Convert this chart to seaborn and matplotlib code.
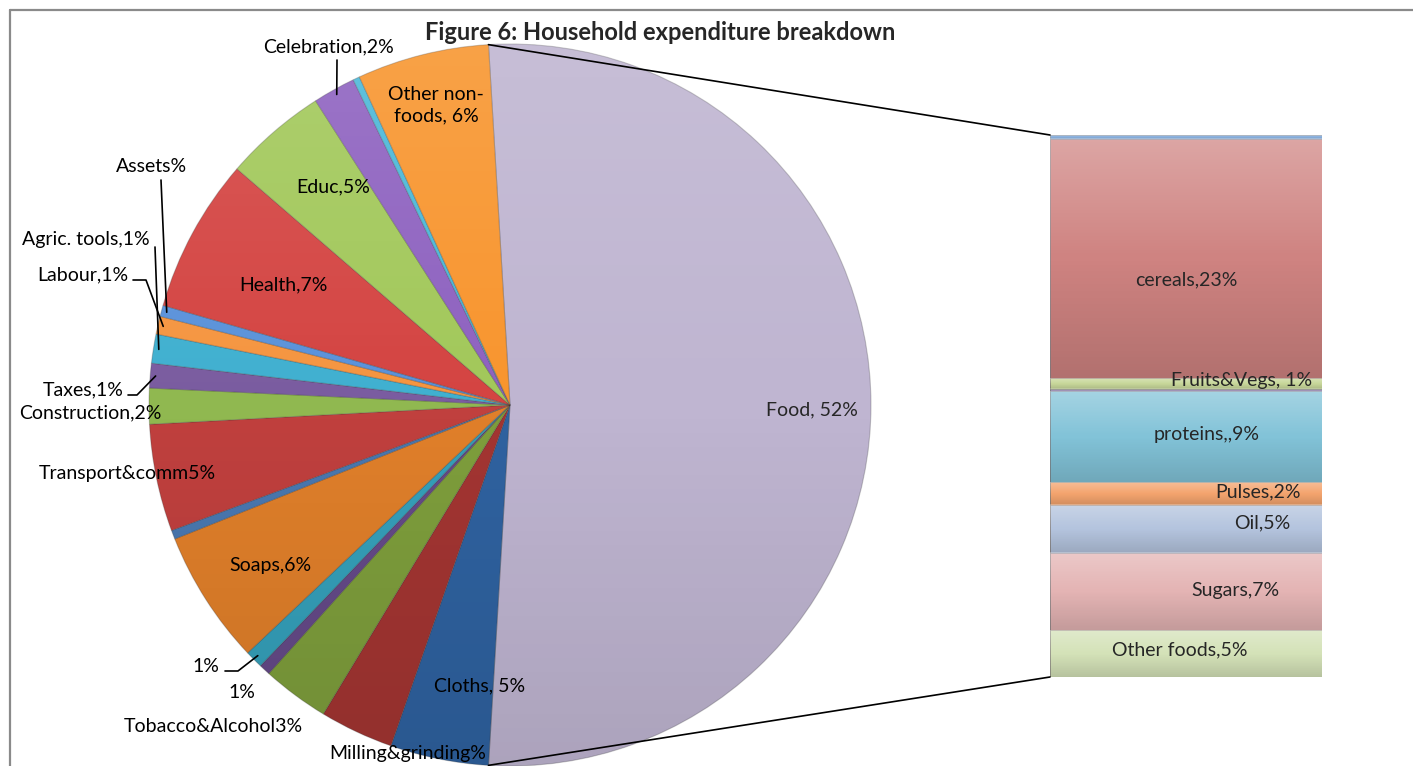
import numpy as np
import pandas as pd
import matplotlib
matplotlib.use("Agg")
import matplotlib.pyplot as plt
import seaborn as sns
from matplotlib.patches import ConnectionPatch, Circle
from matplotlib.lines import Line2D

# ---------------- data ----------------
# non-food slices, clockwise from the bottom of the Food slice
nonfood_names = ["Cloths", "Milling&grinding", "Tobacco&Alcohol", "Misc A", "Misc B",
                 "Soaps", "Misc C", "Transport&comm", "Construction", "Taxes",
                 "Agric. tools", "Labour", "Assets", "Health", "Educ",
                 "Celebration", "Misc D", "Other non-foods"]
nonfood_values = [4.4, 3.3, 3.0, 0.5, 0.8, 6.0, 0.4, 4.8, 1.6, 1.1,
                  1.3, 0.8, 0.5, 6.9, 4.6, 1.9, 0.3, 5.9]
nonfood_labels = ["Cloths, 5%", "Milling&grinding%", "Tobacco&Alcohol3%", "1%", "1%",
                  "Soaps,6%", "", "Transport&comm5%", "Construction,2%", "Taxes,1%",
                  "Agric. tools,1%", "Labour,1%", "Assets%", "Health,7%", "Educ,5%",
                  "Celebration,2%", "", "Other non-\nfoods, 6%"]

# food breakdown, top to bottom of the bar
food_names = ["Food misc", "cereals", "Fruits&Vegs", "Food misc 2", "proteins",
              "Pulses", "Oil", "Sugars", "Other foods"]
food_values = [0.4, 22.9, 1.0, 0.2, 8.7, 2.2, 4.6, 7.4, 4.5]
food_labels = ["", "cereals,23%", "Fruits&Vegs, 1%", "", "proteins,,9%",
               "Pulses,2%", "Oil,5%", "Sugars,7%", "Other foods,5%"]
food_label = "Food, 52%"
title = "Figure 6: Household expenditure breakdown"

# ---------------- styles ----------------
pie_colors = ["#2F62A0", "#A33532", "#7E9E3C", "#654A88", "#35A0BA",
              "#E07F2A", "#4A78B0", "#C0403E", "#90B850", "#7A5CA0",
              "#40B0D0", "#F59540", "#5A92DA", "#D44442", "#A2C85A",
              "#8E62C0", "#4BB8D8", "#F8952E"]
food_color = "#BFB5D1"
bar_colors = ["#8DB4E2", "#CF8381", "#C8D89A", "#B0A0C8", "#82C3D8",
              "#F4A46E", "#B4C4DE", "#E4B4B4", "#D4E2B8"]

W, H = 1413, 766
sns.set_theme(style="white")
plt.rcParams['font.family'] = ['Lato', 'DejaVu Sans']
FS = 14

fig = plt.figure(figsize=(W / 100, H / 100), dpi=100)
fig.patch.set_facecolor("white")

def fx(px):
    return px / W

def fy(py):
    return 1 - py / H

# ---------------- pie ----------------
R = 361
cx, cy = 510, 405
ax_p = fig.add_axes([fx(cx - R), fy(cy + R), 2 * R / W, 2 * R / H])
food_total = float(np.sum(food_values))
total = food_total + float(np.sum(nonfood_values))
start = food_total / total * 360 / 2
wedges, _ = ax_p.pie([food_total] + nonfood_values,
                     colors=[food_color] + pie_colors,
                     startangle=start, counterclock=False,
                     wedgeprops=dict(edgecolor=(0.2, 0.2, 0.2, 0.25), linewidth=0.8))

# global light-to-dark vertical shading over the pie
pg = np.zeros((128, 1, 4))
for i, tt in enumerate(np.linspace(0, 1, 128)):
    if tt < 0.5:
        pg[i] = [1, 1, 1, 0.12 * (1 - tt / 0.5)]
    else:
        pg[i] = [0, 0, 0, 0.10 * ((tt - 0.5) / 0.5)]
im = ax_p.imshow(pg, extent=(-1, 1, -1, 1), aspect="auto", zorder=3,
                 interpolation="bilinear")
im.set_clip_path(Circle((0, 0), 1.0, transform=ax_p.transData))

ax_p.set_xlim(-1, 1)
ax_p.set_ylim(-1, 1)
ax_p.set_aspect("equal")
ax_p.axis("off")

# label anchor positions (pixels) for pie slices: (x, y, ha)
label_pos = {
    "Cloths": (480, 686, "center"), "Milling&grinding": (408, 753, "center"),
    "Tobacco&Alcohol": (213, 727, "center"), "Misc A": (242, 693, "center"),
    "Misc B": (206, 666, "center"), "Soaps": (270, 566, "center"),
    "Transport&comm": (127, 474, "center"), "Construction": (90, 413, "center"),
    "Taxes": (83, 390, "center"), "Agric. tools": (86, 240, "center"),
    "Labour": (83, 275, "center"), "Assets": (151, 167, "center"),
    "Health": (283, 285, "center"), "Educ": (333, 187, "center"),
    "Celebration": (328, 47, "center"), "Other non-foods": (436, 105, "center"),
}
for name, lab in zip(nonfood_names, nonfood_labels):
    if not lab:
        continue
    x, y, ha = label_pos[name]
    fig.text(fx(x), fy(y), lab, ha=ha, va="center", fontsize=FS, color="black",
             multialignment="center", linespacing=1.35)
fig.text(fx(812), fy(410), food_label, ha="center", va="center", fontsize=FS)

# leader lines: label-side points (pixels) then to the slice edge
leaders = {
    "Assets": [(161, 180)],
    "Agric. tools": [(155, 247)],
    "Labour": [(133, 280), (146, 280)],
    "Taxes": [(128, 395), (137, 395)],
    "Misc B": [(225, 671), (238, 671)],
    "Celebration": [(337, 60)],
}
for name, pts in leaders.items():
    w = wedges[1 + nonfood_names.index(name)]
    ang = np.deg2rad((w.theta1 + w.theta2) / 2)
    ex, ey = ax_p.transData.transform((0.985 * np.cos(ang), 0.985 * np.sin(ang)))
    xs = [fx(p[0]) for p in pts] + [ex / W]
    ys = [fy(p[1]) for p in pts] + [ey / H]
    fig.add_artist(Line2D(xs, ys, transform=fig.transFigure, color="black", lw=1.2))

# ---------------- stacked bar ----------------
bx0, bx1, by0, by1 = 1050, 1322, 135, 677
ax_b = fig.add_axes([fx(bx0), fy(by1), (bx1 - bx0) / W, (by1 - by0) / H])
vals_bottom_up = food_values[::-1]
tops_bottom_up = np.cumsum(vals_bottom_up)
tops = tops_bottom_up[::-1]          # top-to-bottom order
bottoms = tops - np.array(food_values)
df = pd.DataFrame({"grp": ["Food"] * len(food_names), "item": food_names, "cum": tops})
sns.barplot(data=df, x="grp", y="cum", hue="item", hue_order=food_names,
            palette=dict(zip(food_names, bar_colors)), dodge=False, width=1.0,
            saturation=1, errorbar=None, legend=False, ax=ax_b,
            edgecolor=(0.45, 0.45, 0.45, 0.5), linewidth=0.6)

# soft vertical shading per segment
grad = np.zeros((64, 1, 4))
for i, tt in enumerate(np.linspace(0, 1, 64)):
    if tt < 0.5:
        grad[i] = [1, 1, 1, 0.28 * (1 - tt / 0.5)]
    else:
        grad[i] = [0, 0, 0, 0.14 * ((tt - 0.5) / 0.5)]
for b, tp in zip(bottoms, tops):
    ax_b.imshow(grad, extent=(-0.5, 0.5, b, tp), aspect="auto", zorder=3,
                interpolation="bilinear")

ax_b.set_xlim(-0.5, 0.5)
ax_b.set_ylim(0, food_total)
ax_b.axis("off")

# bar labels: (x fraction across bar, y offset in segment fraction, ha)
bar_label_pos = {
    "cereals": (0.50, 0.59, "center"), "Fruits&Vegs": (0.965, 0.2, "right"),
    "proteins": (0.577, 0.48, "center"), "Pulses": (0.765, 0.45, "center"),
    "Oil": (0.78, 0.38, "center"), "Sugars": (0.68, 0.49, "center"),
    "Other foods": (0.478, 0.43, "center"),
}
for name, lab, b, tp in zip(food_names, food_labels, bottoms, tops):
    if not lab:
        continue
    xf, yf, ha = bar_label_pos[name]
    ax_b.text(xf - 0.5, tp - yf * (tp - b), lab, ha=ha, va="center",
              fontsize=FS, zorder=5)

# connector lines from the Food slice to the bar
for ang_deg, yb in [(start, food_total), (-start, 0)]:
    a = np.deg2rad(ang_deg)
    con = ConnectionPatch(xyA=(np.cos(a), np.sin(a)), coordsA=ax_p.transData,
                          xyB=(-0.5, yb), coordsB=ax_b.transData,
                          color="black", lw=1.2)
    fig.add_artist(con)

# title
fig.text(fx(660), fy(33), title, ha="center", va="center", fontsize=17,
         fontweight="bold")

# chart frame (top and left edges visible)
fig.add_artist(Line2D([fx(9.5), fx(9.5)], [0, fy(10)], transform=fig.transFigure,
                      color="#8a8a8a", lw=1.6))
fig.add_artist(Line2D([fx(9.5), 1], [fy(10), fy(10)], transform=fig.transFigure,
                      color="#8a8a8a", lw=1.6))

fig.savefig("out.png", dpi=100, facecolor="white")
